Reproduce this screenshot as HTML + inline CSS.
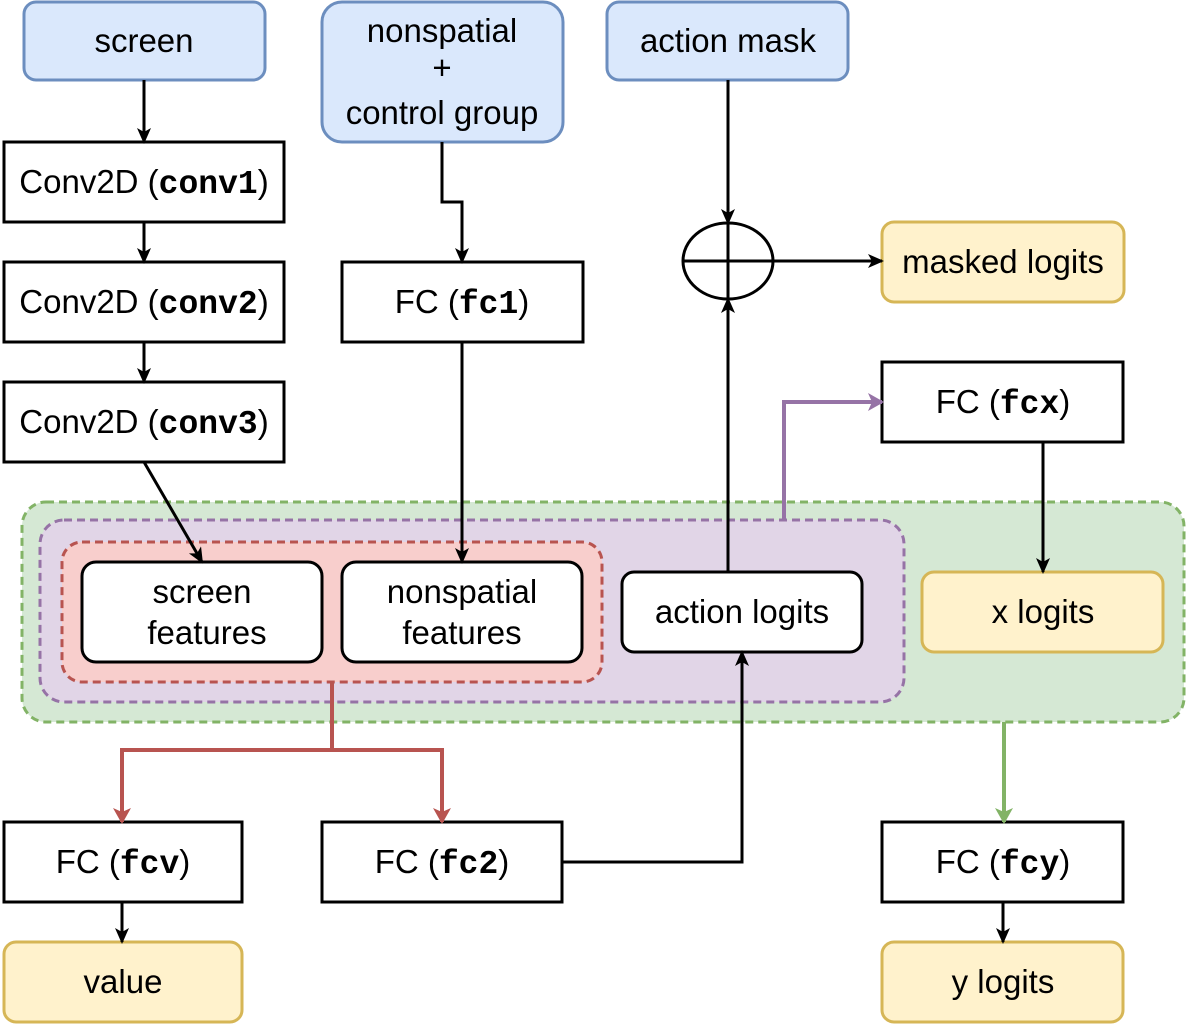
<!DOCTYPE html>
<html><head><style>
html,body{margin:0;padding:0;background:#fff}
svg{display:block}
text{font-family:"Liberation Sans",sans-serif;font-size:33px;fill:#000}
.m{font-family:"Liberation Mono",monospace;font-weight:bold}
</style></head><body>
<svg width="1186" height="1034" viewBox="0 0 1186 1034">
<defs>
<marker id="ak" markerWidth="16" markerHeight="16" refX="14" refY="7" orient="auto" markerUnits="userSpaceOnUse"><path d="M0,0 L16,7 L0,14 L4,7z" fill="#000"/></marker>
<marker id="ar" markerWidth="16" markerHeight="18" refX="14" refY="9" orient="auto" markerUnits="userSpaceOnUse"><path d="M0,0 L16,9 L0,18 L4,9z" fill="#b85450"/></marker>
<marker id="ap" markerWidth="16" markerHeight="18" refX="14" refY="9" orient="auto" markerUnits="userSpaceOnUse"><path d="M0,0 L16,9 L0,18 L4,9z" fill="#9673a6"/></marker>
<marker id="ag" markerWidth="16" markerHeight="18" refX="14" refY="9" orient="auto" markerUnits="userSpaceOnUse"><path d="M0,0 L16,9 L0,18 L4,9z" fill="#82b366"/></marker>
</defs>
<rect x="22" y="502" width="1162" height="220" rx="24" fill="#d5e8d4" stroke="#82b366" stroke-width="3" stroke-dasharray="8,5"/>
<rect x="40" y="520" width="864" height="182" rx="24" fill="#e1d5e7" stroke="#9673a6" stroke-width="3" stroke-dasharray="8,5"/>
<rect x="62" y="542" width="540" height="140" rx="20" fill="#f8cecc" stroke="#b85450" stroke-width="3" stroke-dasharray="8,5"/>
<g fill="#dae8fc" stroke="#6c8ebf" stroke-width="3">
<rect x="24" y="2" width="241" height="78" rx="12"/>
<rect x="322" y="2" width="241" height="140" rx="20"/>
<rect x="607" y="2" width="241" height="78" rx="12"/>
</g>
<g fill="#fff2cc" stroke="#d6b656" stroke-width="3">
<rect x="882" y="222" width="242" height="80" rx="12"/>
<rect x="922" y="572" width="241" height="80" rx="12"/>
<rect x="4" y="942" width="238" height="80" rx="12"/>
<rect x="882" y="942" width="241" height="80" rx="12"/>
</g>
<g fill="#fff" stroke="#000" stroke-width="3">
<rect x="4" y="142" width="280" height="80"/>
<rect x="4" y="262" width="280" height="80"/>
<rect x="4" y="382" width="280" height="80"/>
<rect x="342" y="262" width="241" height="80"/>
<rect x="882" y="362" width="241" height="80"/>
<rect x="4" y="822" width="238" height="80"/>
<rect x="322" y="822" width="240" height="80"/>
<rect x="882" y="822" width="241" height="80"/>
<rect x="82" y="562" width="240" height="100" rx="14"/>
<rect x="342" y="562" width="240" height="100" rx="14"/>
<rect x="622" y="572" width="240" height="80" rx="12"/>
<ellipse cx="728" cy="261" rx="45" ry="38"/>
</g>
<path d="M683,261H773M728,223V299" stroke="#000" stroke-width="3" fill="none"/>
<g stroke="#000" stroke-width="3" fill="none" marker-end="url(#ak)">
<path d="M144,80V142"/>
<path d="M144,222V262"/>
<path d="M144,342V382"/>
<path d="M144,462L202,562"/>
<path d="M442,142V202H462V262"/>
<path d="M462,342V562"/>
<path d="M728,80V223"/>
<path d="M773,261H882"/>
<path d="M728,572V299"/>
<path d="M1043,442V572"/>
<path d="M562,862H742V652"/>
<path d="M122,902V942"/>
<path d="M1003,902V942"/>
</g>
<path d="M784,520V402H882" stroke="#9673a6" stroke-width="4" fill="none" marker-end="url(#ap)"/>
<path d="M332,682V750H122V822" stroke="#b85450" stroke-width="4" fill="none" marker-end="url(#ar)"/>
<path d="M332,750H442V822" stroke="#b85450" stroke-width="4" fill="none" marker-end="url(#ar)"/>
<path d="M1004,722V822" stroke="#82b366" stroke-width="4" fill="none" marker-end="url(#ag)"/>
<g text-anchor="middle">
<text x="144" y="52">screen</text>
<text x="442" y="42">nonspatial</text>
<text x="442" y="79">+</text>
<text x="442" y="124">control group</text>
<text x="728" y="52">action mask</text>
<text x="144" y="193">Conv2D (<tspan class="m">conv1</tspan>)</text>
<text x="144" y="313">Conv2D (<tspan class="m">conv2</tspan>)</text>
<text x="144" y="433">Conv2D (<tspan class="m">conv3</tspan>)</text>
<text x="462" y="313">FC (<tspan class="m">fc1</tspan>)</text>
<text x="1003" y="273">masked logits</text>
<text x="1003" y="413">FC (<tspan class="m">fcx</tspan>)</text>
<text x="202" y="603">screen</text>
<text x="207" y="644">features</text>
<text x="462" y="603">nonspatial</text>
<text x="462" y="644">features</text>
<text x="742" y="623">action logits</text>
<text x="1043" y="623">x logits</text>
<text x="123" y="873">FC (<tspan class="m">fcv</tspan>)</text>
<text x="442" y="873">FC (<tspan class="m">fc2</tspan>)</text>
<text x="1003" y="873">FC (<tspan class="m">fcy</tspan>)</text>
<text x="123" y="993">value</text>
<text x="1003" y="993">y logits</text>
</g>
</svg>
</body></html>
